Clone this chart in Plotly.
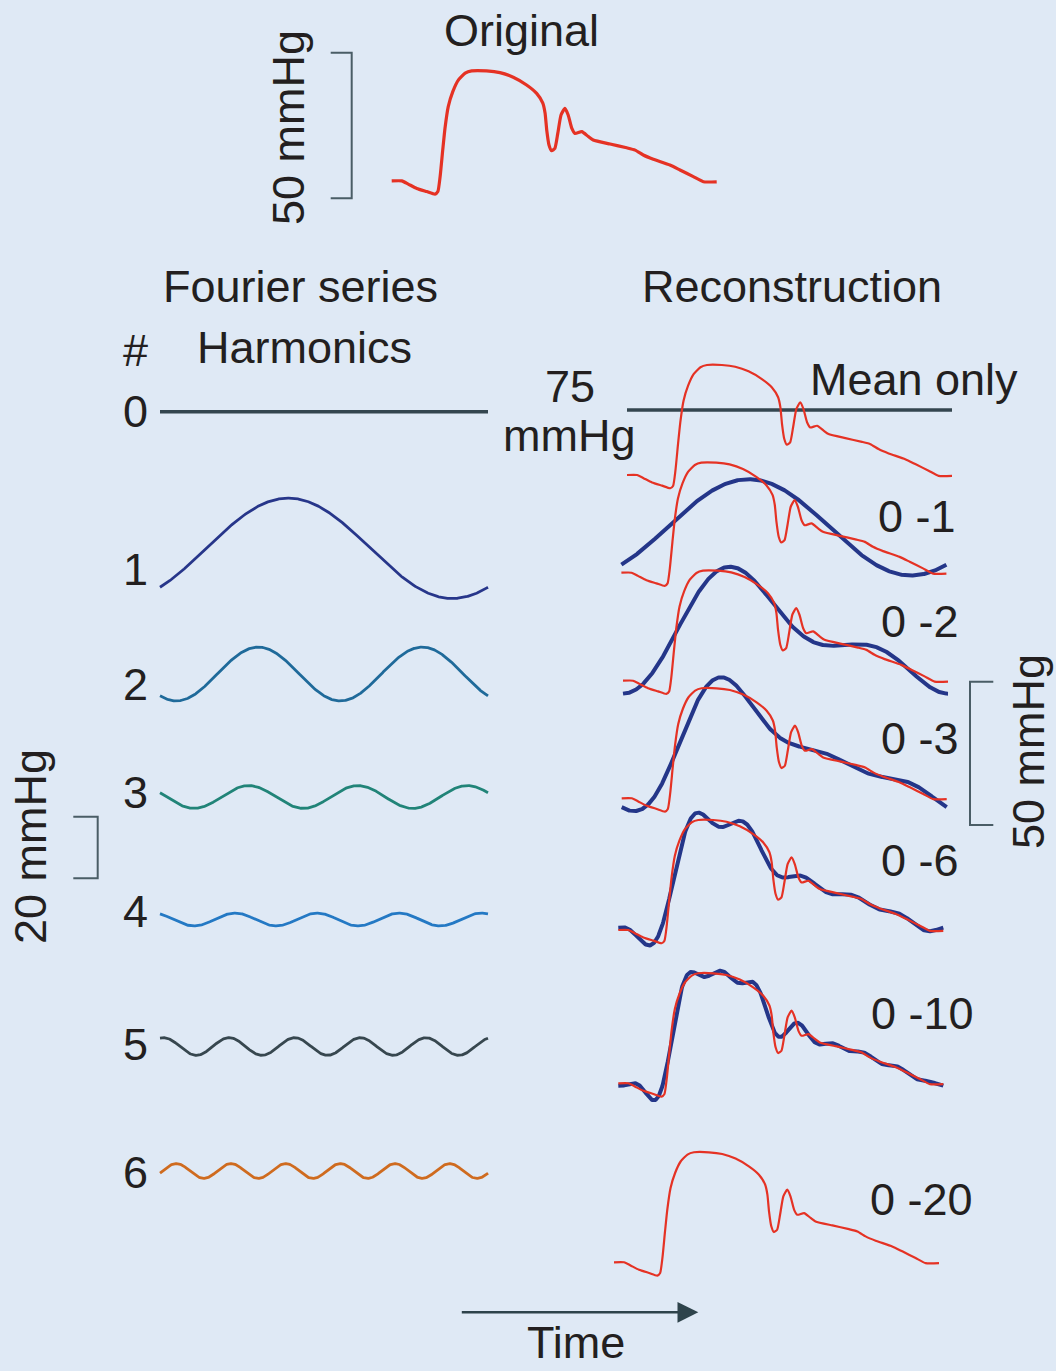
import numpy as np
import plotly.graph_objects as go

FIG_W, FIG_H = 1056, 1371

# ---------------- data ----------------
cycle_time = [0.000, 0.031, 0.051, 0.077, 0.108, 0.133, 0.142, 0.149, 0.157, 0.164,
              0.174, 0.188, 0.205, 0.226, 0.246, 0.292, 0.333, 0.374, 0.415, 0.446,
              0.465, 0.472, 0.477, 0.484, 0.492, 0.502, 0.511, 0.521, 0.533, 0.543,
              0.554, 0.564, 0.585, 0.605, 0.620, 0.672, 0.723, 0.749, 0.774, 0.805,
              0.856, 0.887, 0.928, 0.959, 1.000]
pressure_mmHg = [59.3, 59.3, 58.2, 56.7, 55.6, 54.7, 55.6, 60.8, 70.0, 77.6,
                 85.1, 90.3, 94.3, 96.7, 97.5, 97.5, 96.9, 95.3, 92.6, 89.7,
                 86.3, 82.8, 77.0, 71.8, 69.8, 70.6, 75.8, 82.2, 84.5, 82.2,
                 77.6, 75.8, 76.4, 74.7, 73.5, 72.1, 70.8, 70.0, 68.3, 66.8,
                 64.8, 63.1, 60.8, 59.0, 59.0]
harmonic_numbers = [0, 1, 2, 3, 4, 5, 6]
harmonic_labels = ["0", "1", "2", "3", "4", "5", "6"]
recon_orders = [0, 1, 2, 3, 6, 10, 20]
recon_labels = ["Mean only", "0 -1", "0 -2", "0 -3", "0 -6", "0 -10", "0 -20"]
mean_label = ["75", "mmHg"]

# ---------------- styles / layout constants ----------------
BG = "#dfe9f5"
TXT = "#231f20"
RED = "#e53224"
NAVY = "#243689"
HARM_COLORS = ["#34464f", "#27368a", "#1f6a9a", "#218478", "#2479c4", "#37474f", "#cf6b1f"]
FONT = "Liberation Sans, Arial, sans-serif"
FS = 45

PX_PER_MMHG = 2.88
HARM_PX_PER_MMHG = 3.0
# left harmonics panel
H_X0, H_W = 160, 328
H_CENTER_Y = [411.7, 548.3, 674, 797, 919.5, 1046.5, 1171]
H_LABEL_Y = [412, 569, 684, 792, 911, 1044, 1172]
# right reconstruction panel
R_W = 325
R_X0 = [627, 621.4, 623, 621.7, 618.3, 618.3, 614]
R_Y_START = [475, 572.7, 680.7, 798.3, 930, 1083.3, 1262.3]
R_MEAN_LINE_Y = 410
LABEL_POS = [(914, 379), (917, 517), (920, 621), (920, 738), (920, 861), (922, 1013), (921, 1199)]

# ---------------- Fourier analysis of the pressure wave ----------------
N = 4096
tg = np.arange(N) / N
pg = np.interp(tg, cycle_time, pressure_mmHg)
coef = np.fft.rfft(pg) / N
p_mean = coef[0].real


def harmonic(n, tt):
    return 2 * np.abs(coef[n]) * np.cos(2 * np.pi * n * tt + np.angle(coef[n]))


def partial_sum(order, tt):
    out = np.full_like(tt, p_mean)
    for n in range(1, order + 1):
        out = out + harmonic(n, tt)
    return out


# ---------------- axes helper ----------------
layout_axes = {}
ax_counter = [0]


def new_axes(x0, width, y_ref, v_ref, scale):
    ax_counter[0] += 1
    k = ax_counter[0]
    xr = [(0 - x0) / width, (FIG_W - x0) / width]
    yr = [v_ref - (FIG_H - y_ref) / scale, v_ref + y_ref / scale]
    xa = dict(range=xr, visible=False, fixedrange=True, domain=[0, 1])
    ya = dict(range=yr, visible=False, fixedrange=True, domain=[0, 1])
    if k == 1:
        layout_axes["xaxis"] = xa
        layout_axes["yaxis"] = ya
        return "x", "y"
    xa.update(overlaying="x", anchor="free", position=0)
    ya.update(overlaying="y", anchor="free", position=0)
    layout_axes[f"xaxis{k}"] = xa
    layout_axes[f"yaxis{k}"] = ya
    return f"x{k}", f"y{k}"


fig = go.Figure()
tt = np.linspace(0, 1, 600)

# original wave
xa, ya = new_axes(391.7, 325, 135.7, 75, PX_PER_MMHG)
fig.add_trace(go.Scatter(x=cycle_time, y=pressure_mmHg, mode="lines", xaxis=xa, yaxis=ya,
                         line=dict(color=RED, width=3.2, shape="spline", smoothing=0.5)))

# harmonics (left)
for i, n in enumerate(harmonic_numbers):
    if n == 0:
        xa, ya = new_axes(H_X0, H_W, H_CENTER_Y[i], p_mean, HARM_PX_PER_MMHG)
        fig.add_trace(go.Scatter(x=[0, 1], y=[p_mean, p_mean], mode="lines", xaxis=xa, yaxis=ya,
                                 line=dict(color=HARM_COLORS[i], width=3.5)))
    else:
        xa, ya = new_axes(H_X0, H_W, H_CENTER_Y[i], 0, HARM_PX_PER_MMHG)
        fig.add_trace(go.Scatter(x=tt, y=harmonic(n, tt), mode="lines", xaxis=xa, yaxis=ya,
                                 line=dict(color=HARM_COLORS[i], width=2.8)))

# reconstructions (right)
for i, order in enumerate(recon_orders):
    if order == 0:
        xa0, ya0 = new_axes(R_X0[i], R_W, R_MEAN_LINE_Y, p_mean, PX_PER_MMHG)
        fig.add_trace(go.Scatter(x=[0, 1], y=[p_mean, p_mean], mode="lines", xaxis=xa0, yaxis=ya0,
                                 line=dict(color=HARM_COLORS[0], width=3.5)))
    xa, ya = new_axes(R_X0[i], R_W, R_Y_START[i], pressure_mmHg[0], PX_PER_MMHG)
    if 1 <= order <= 10:
        fig.add_trace(go.Scatter(x=tt, y=partial_sum(order, tt), mode="lines", xaxis=xa, yaxis=ya,
                                 line=dict(color=NAVY, width=4)))
    fig.add_trace(go.Scatter(x=cycle_time, y=pressure_mmHg, mode="lines", xaxis=xa, yaxis=ya,
                             line=dict(color=RED, width=2.2, shape="spline", smoothing=0.5)))


# ---------------- text ----------------
def px(x):
    return x / FIG_W


def py(y):
    return 1 - y / FIG_H


annotations = []


def label(text, x, y, angle=0, size=FS):
    annotations.append(dict(text=text, x=px(x), y=py(y), xref="paper", yref="paper",
                            xanchor="center", yanchor="middle", showarrow=False,
                            textangle=angle, font=dict(family=FONT, size=size, color=TXT)))


label("Original", 521, 31)
label("50 mmHg", 289, 128, -90)
label("Fourier series", 300.5, 286)
label("Reconstruction", 792, 286)
label("#", 135, 350)
label("Harmonics", 304.5, 347.5)
for i, t in enumerate(harmonic_labels):
    label(t, 135.5, H_LABEL_Y[i])
label(mean_label[0], 570, 387)
label(mean_label[1], 569, 435.5)
for i, t in enumerate(recon_labels):
    label(t, *LABEL_POS[i])
label("20 mmHg", 30, 847, -90)
label("50 mmHg", 1028, 752, -90)
label("Time", 576, 1342)

# arrow
annotations.append(dict(text="", x=px(698.3), y=py(1312.3), xref="paper", yref="paper",
                        ax=-238, ay=0, axref="pixel", ayref="pixel", showarrow=True,
                        arrowhead=2, arrowsize=1.6, arrowwidth=2.6, arrowcolor="#2e434b"))

# scale bars
BAR = "#4a5d66"


def bracket(points):
    d = "M " + " L ".join(f"{px(x)},{py(y)}" for x, y in points)
    return dict(type="path", path=d, xref="paper", yref="paper",
                line=dict(color=BAR, width=2))


shapes = [
    bracket([(330.7, 52.7), (351.7, 52.7), (351.7, 198.3), (330.7, 198.3)]),
    bracket([(73.3, 816.7), (97.7, 816.7), (97.7, 878.3), (73.3, 878.3)]),
    bracket([(993.3, 681.7), (970, 681.7), (970, 825), (993.3, 825)]),
]

fig.update_layout(
    width=FIG_W, height=FIG_H, autosize=False,
    margin=dict(l=0, r=0, t=0, b=0, pad=0),
    paper_bgcolor=BG, plot_bgcolor="rgba(0,0,0,0)",
    showlegend=False, hovermode=False,
    annotations=annotations, shapes=shapes,
    **layout_axes,
)

fig.write_html("out.html", config=dict(displayModeBar=False, staticPlot=True))
